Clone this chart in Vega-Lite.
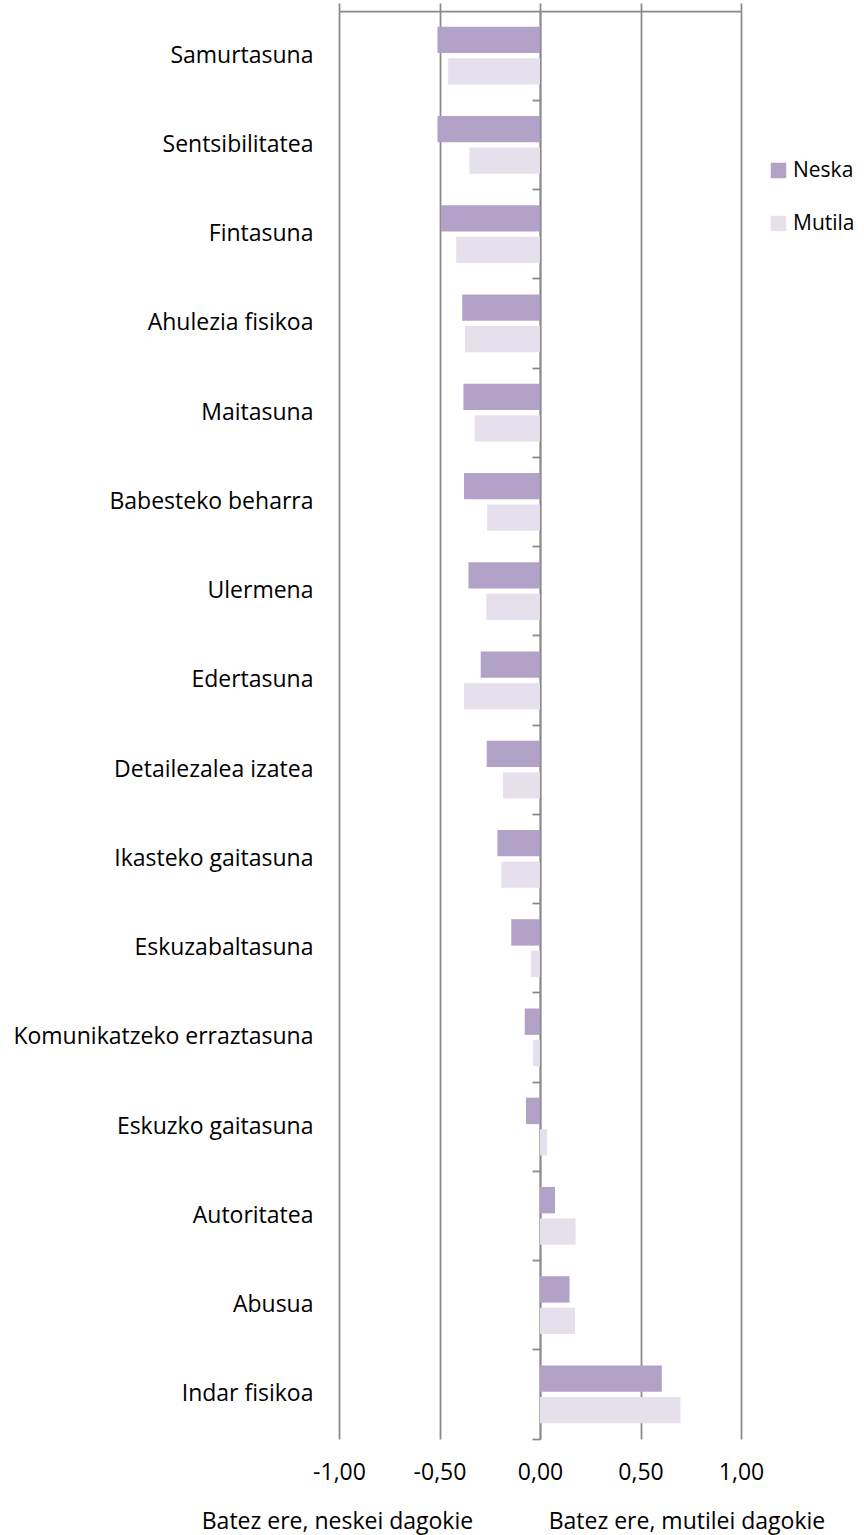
{
  "$schema": "https://vega.github.io/schema/vega-lite/v6.json",
  "autosize": "none",
  "width": 402,
  "height": 1428,
  "padding": {"left": 339, "top": 11, "right": 123, "bottom": 96},
  "background": "white",
  "config": {
    "font": "Open Sans",
    "view": {"stroke": null},
    "axis": {"labelFont": "Open Sans", "titleFont": "Open Sans", "labelColor": "#000000", "titleColor": "#000000"}
  },
  "data": {
    "values": [
      {"trait": "Samurtasuna", "group": "Neska", "value": -0.51},
      {"trait": "Samurtasuna", "group": "Mutila", "value": -0.457},
      {"trait": "Sentsibilitatea", "group": "Neska", "value": -0.51},
      {"trait": "Sentsibilitatea", "group": "Mutila", "value": -0.351},
      {"trait": "Fintasuna", "group": "Neska", "value": -0.493},
      {"trait": "Fintasuna", "group": "Mutila", "value": -0.417},
      {"trait": "Ahulezia fisikoa", "group": "Neska", "value": -0.387},
      {"trait": "Ahulezia fisikoa", "group": "Mutila", "value": -0.373},
      {"trait": "Maitasuna", "group": "Neska", "value": -0.381},
      {"trait": "Maitasuna", "group": "Mutila", "value": -0.325},
      {"trait": "Babesteko beharra", "group": "Neska", "value": -0.378},
      {"trait": "Babesteko beharra", "group": "Mutila", "value": -0.263},
      {"trait": "Ulermena", "group": "Neska", "value": -0.356},
      {"trait": "Ulermena", "group": "Mutila", "value": -0.267},
      {"trait": "Edertasuna", "group": "Neska", "value": -0.295},
      {"trait": "Edertasuna", "group": "Mutila", "value": -0.378},
      {"trait": "Detailezalea izatea", "group": "Neska", "value": -0.265},
      {"trait": "Detailezalea izatea", "group": "Mutila", "value": -0.184},
      {"trait": "Ikasteko gaitasuna", "group": "Neska", "value": -0.212},
      {"trait": "Ikasteko gaitasuna", "group": "Mutila", "value": -0.192},
      {"trait": "Eskuzabaltasuna", "group": "Neska", "value": -0.143},
      {"trait": "Eskuzabaltasuna", "group": "Mutila", "value": -0.045},
      {"trait": "Komunikatzeko erraztasuna", "group": "Neska", "value": -0.076},
      {"trait": "Komunikatzeko erraztasuna", "group": "Mutila", "value": -0.035},
      {"trait": "Eskuzko gaitasuna", "group": "Neska", "value": -0.07},
      {"trait": "Eskuzko gaitasuna", "group": "Mutila", "value": 0.035},
      {"trait": "Autoritatea", "group": "Neska", "value": 0.075},
      {"trait": "Autoritatea", "group": "Mutila", "value": 0.177},
      {"trait": "Abusua", "group": "Neska", "value": 0.147},
      {"trait": "Abusua", "group": "Mutila", "value": 0.174},
      {"trait": "Indar fisikoa", "group": "Neska", "value": 0.606},
      {"trait": "Indar fisikoa", "group": "Mutila", "value": 0.699}
    ]
  },
  "resolve": {"axis": {"x": "independent", "y": "independent"}},
  "layer": [
    {
      "mark": {"type": "bar"},
      "encoding": {
        "y": {
          "field": "trait", "type": "nominal", "sort": null,
          "scale": {"paddingInner": 0, "paddingOuter": 0},
          "axis": {"title": null, "orient": "left", "domain": false, "ticks": false, "labelPadding": 26, "labelFontSize": 23, "labelLimit": 400}
        },
        "yOffset": {
          "field": "group", "type": "nominal", "sort": ["Neska", "Mutila"],
          "scale": {"paddingInner": 0.16, "paddingOuter": 0.5}
        },
        "x": {
          "field": "value", "type": "quantitative",
          "scale": {"domain": [-1, 1], "nice": false, "zero": false},
          "axis": {
            "orient": "bottom",
            "values": [-1, -0.5, 0, 0.5, 1],
            "labelExpr": "(datum.value < 0 ? '-' : '') + replace(format(abs(datum.value), '.2f'), '.', ',')",
            "labelFontSize": 23, "labelPadding": 22, "labelFlush": false, "labelOverlap": false, "ticks": false, "domain": false,
            "grid": true, "gridColor": "#898989", "gridWidth": 1.75, "gridOpacity": 1,
            "title": "Batez ere, neskei dagokie\u00a0\u00a0\u00a0\u00a0\u00a0\u00a0\u00a0\u00a0\u00a0\u00a0\u00a0\u00a0\u2009Batez ere, mutilei dagokie",
            "titleFontSize": 23, "titleFontWeight": "normal", "titleX": 174, "titleY": 82, "titleAlign": "center", "titleBaseline": "middle"
          }
        },
        "color": {
          "field": "group", "type": "nominal",
          "scale": {"domain": ["Neska", "Mutila"], "range": ["#b3a2c7", "#e6e0ec"]},
          "legend": {
            "title": null, "orient": "none", "legendX": 429, "legendY": 149,
            "symbolType": "square", "symbolSize": 240, "symbolStrokeWidth": 0, "symbolOpacity": 1,
            "labelFontSize": 21, "labelFont": "Open Sans", "labelColor": "#000000", "labelOffset": 4, "rowPadding": 31, "padding": 0, "labelLimit": 200
          }
        }
      }
    },
    {
      "mark": {"type": "bar", "opacity": 0},
      "encoding": {
        "y": {
          "field": "trait", "type": "nominal", "sort": null,
          "axis": {"title": null, "orient": "left", "offset": -201, "labels": false, "domain": true, "domainColor": "#898989", "domainWidth": 1.75, "ticks": true, "tickColor": "#898989", "tickWidth": 1.75, "tickSize": 8, "bandPosition": 1, "grid": false}
        },
        "x": {
          "field": "value", "type": "quantitative",
          "axis": {"title": null, "orient": "top", "values": [-1, -0.5, 0, 0.5, 1], "labels": false, "domain": true, "domainColor": "#898989", "domainWidth": 1.75, "ticks": true, "tickColor": "#898989", "tickWidth": 1.75, "tickSize": 8, "grid": false}
        }
      }
    }
  ]
}
